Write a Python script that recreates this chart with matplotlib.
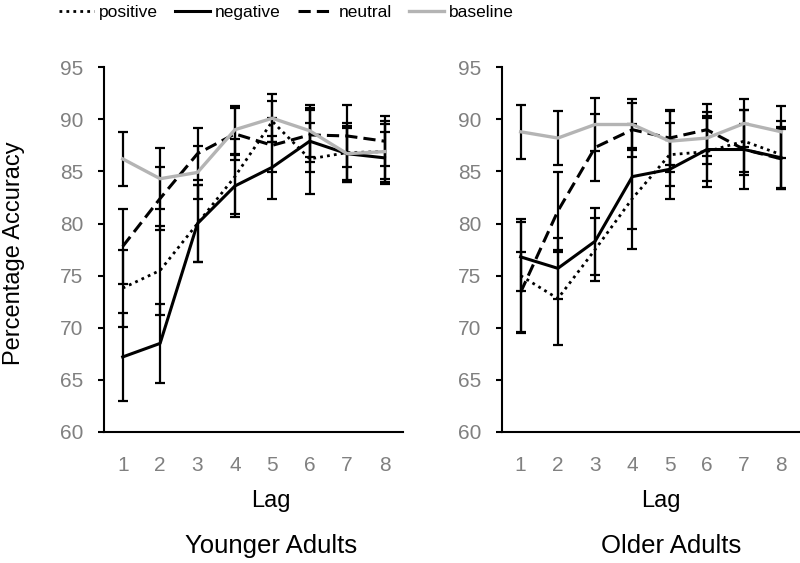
import numpy as np
import matplotlib.pyplot as plt

plt.rcParams['font.family'] = ['Liberation Sans', 'DejaVu Sans']

lags = [1, 2, 3, 4, 5, 6, 7, 8]

# Younger adults
young_pos = [73.8, 75.5, 80.0, 84.5, 89.8, 86.2, 86.8, 86.9]
young_neg = [67.2, 68.5, 80.0, 83.6, 85.4, 87.9, 86.7, 86.3]
young_neu = [77.8, 82.4, 86.7, 88.6, 87.5, 88.5, 88.4, 87.9]
young_base = [86.2, 84.3, 84.9, 89.0, 90.1, 88.9, 86.7, 86.9]
young_pos_err = [3.7, 4.3, 3.7, 3.6, 2.0, 3.4, 2.8, 2.9]
young_neg_err = [4.2, 3.8, 3.7, 3.0, 3.0, 3.0, 2.7, 2.5]
young_neu_err = [3.6, 3.0, 2.5, 2.5, 2.6, 2.6, 3.0, 2.4]
young_base_err = [2.6, 2.9, 2.5, 2.3, 2.3, 2.5, 2.5, 2.6]

# Older adults
old_pos = [75.0, 72.8, 77.5, 82.4, 86.6, 86.9, 87.9, 86.6]
old_neg = [76.8, 75.7, 78.3, 84.5, 85.2, 87.1, 87.1, 86.3]
old_neu = [73.4, 81.2, 87.3, 89.0, 88.2, 89.0, 87.1, 86.2]
old_base = [88.8, 88.2, 89.5, 89.5, 87.9, 88.2, 89.6, 88.8]
old_pos_err = [5.4, 4.5, 3.0, 4.8, 3.0, 3.4, 3.0, 3.2]
old_neg_err = [3.3, 2.9, 3.2, 5.0, 2.8, 3.0, 2.4, 3.0]
old_neu_err = [3.9, 3.7, 3.2, 2.6, 2.6, 2.5, 3.8, 2.9]
old_base_err = [2.6, 2.6, 2.5, 2.4, 3.0, 2.5, 2.3, 2.5]

gray = '#808080'
styles = {
    'positive': dict(color='black', linestyle=(0, (1, 1.5)), lw=2.0),
    'negative': dict(color='black', linestyle='-', lw=2.2),
    'neutral': dict(color='black', linestyle=(0, (4, 2)), lw=2.2),
    'baseline': dict(color='#b4b4b4', linestyle='-', lw=2.4),
}

fig = plt.figure(figsize=(8, 5.63), dpi=100)
ax1 = fig.add_axes([0.13, 0.2327, 0.374, 0.648])
ax2 = fig.add_axes([0.6275, 0.2327, 0.3725, 0.648])


def draw(ax, series):
    for name, vals, errs in series:
        ax.errorbar(lags, vals, yerr=errs, fmt='none', ecolor='black',
                    elinewidth=1.6, capsize=3.5, capthick=1.6, zorder=2)
    for name, vals, errs in series:
        ax.plot(lags, vals, label=name, zorder=3, **styles[name])
    ax.set_xlim(0.5, 8.5)
    ax.set_ylim(60, 95)
    ax.set_yticks(np.arange(60, 96, 5))
    ax.set_xticks(lags)
    for s in ['top', 'right']:
        ax.spines[s].set_visible(False)
    for s in ['left', 'bottom']:
        ax.spines[s].set_linewidth(1.5)
    ax.tick_params(axis='x', length=0, pad=17, labelsize=15, labelcolor=gray)
    ax.tick_params(axis='y', length=4, width=1.5, pad=11, labelsize=15, labelcolor=gray)


draw(ax1, [('positive', young_pos, young_pos_err),
           ('negative', young_neg, young_neg_err),
           ('neutral', young_neu, young_neu_err),
           ('baseline', young_base, young_base_err)])
draw(ax2, [('positive', old_pos, old_pos_err),
           ('negative', old_neg, old_neg_err),
           ('neutral', old_neu, old_neu_err),
           ('baseline', old_base, old_base_err)])

fig.text(0.017, 0.55, 'Percentage Accuracy', rotation=90, ha='center', va='center', fontsize=17)
fig.text(0.339, 0.110, 'Lag', ha='center', va='center', fontsize=17)
fig.text(0.826, 0.110, 'Lag', ha='center', va='center', fontsize=17)
fig.text(0.339, 0.030, 'Younger Adults', ha='center', va='center', fontsize=18.5)
fig.text(0.839, 0.030, 'Older Adults', ha='center', va='center', fontsize=18.5)

handles, labels = ax1.get_legend_handles_labels()
fig.legend(handles, labels, loc='center', bbox_to_anchor=(0.358, 0.978), ncol=4,
           frameon=False, handlelength=2.0, handletextpad=0.3,
           columnspacing=1.0, borderpad=0, fontsize=12.5)

fig.savefig('out.png', dpi=100)
